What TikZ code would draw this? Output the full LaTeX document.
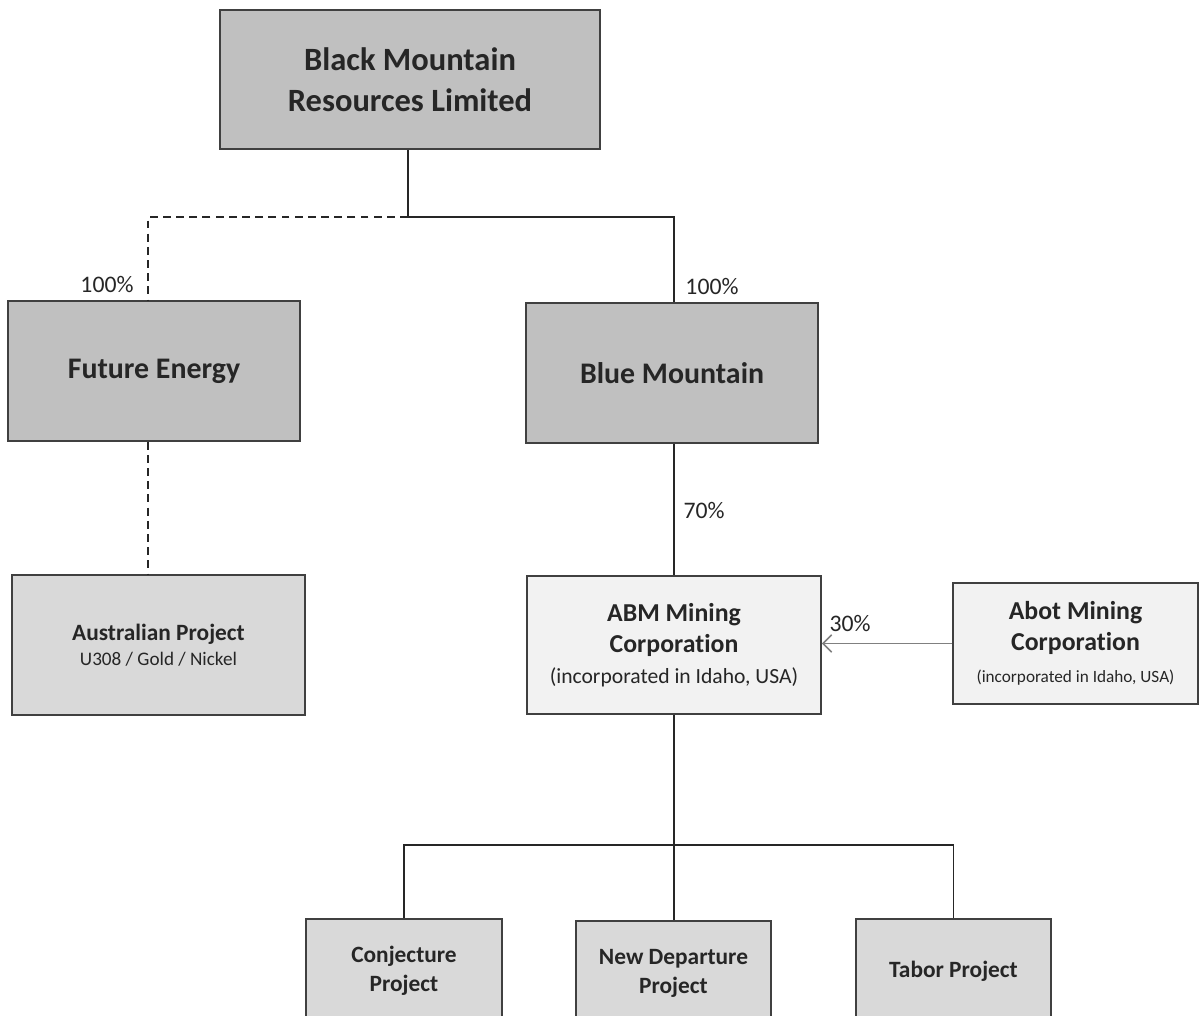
\documentclass[tikz,border=0pt]{standalone}
\usepackage{fontspec}
\setmainfont{Carlito}[Ligatures=NoCommon]
\usetikzlibrary{calc,arrows.meta}
\definecolor{boxdark}{HTML}{C0C0C0}
\definecolor{boxmid}{HTML}{D9D9D9}
\definecolor{boxlight}{HTML}{F2F2F2}
\definecolor{edgegray}{HTML}{404040}
\definecolor{txtgray}{HTML}{262626}
\tikzset{
	box/.style={draw=edgegray, line width=0.9pt, text=txtgray, align=center, inner sep=0pt},
	link/.style={draw=txtgray, line width=0.9pt},
	pct/.style={text=txtgray, font=\fontsize{13.5}{16}\selectfont},
}

\begin{document}
\begin{tikzpicture}[x=0.02cm, y=-0.02cm]
			%%%%% START %%%%%
			\clip (0, 0) rectangle (1204, 1016);
			\useasboundingbox (0, 0) rectangle (1204, 1016);
			
			\node[box, fill=boxdark, minimum width=7.6cm, minimum height=2.78cm, font=\bfseries\fontsize{18.5}{23.5}\selectfont] (bmr) at (410, 79.5) {Black Mountain\\Resources Limited};
			
			\node[box, fill=boxdark, minimum width=5.84cm, minimum height=2.8cm, font=\bfseries\fontsize{17}{20}\selectfont] (fe) at (154, 371) {Future Energy};
			\node[box, fill=boxdark, minimum width=5.84cm, minimum height=2.8cm, font=\bfseries\fontsize{17}{20}\selectfont] (bm) at (672, 373) {Blue Mountain};
			
			\node[box, fill=boxmid, minimum width=5.86cm, minimum height=2.8cm, font=\bfseries\fontsize{13.3}{15}\selectfont] (aus) at (158.5, 645) {Australian Project\\[-1pt]\mdseries\fontsize{10.9}{12}\selectfont U308 / Gold / Nickel};
			
			\node[box, fill=boxlight, minimum width=5.88cm, minimum height=2.76cm, font=\bfseries\fontsize{14.7}{17.6}\selectfont] (abm) at (674, 645) {ABM Mining\\Corporation\\[0pt]\mdseries\fontsize{12.3}{14}\selectfont (incorporated in Idaho, USA)};
			\node[box, fill=boxlight, minimum width=4.9cm, minimum height=2.42cm, font=\bfseries\fontsize{14.7}{17.6}\selectfont] (abot) at (1075.5, 643.5) {Abot Mining\\Corporation\\[1pt]\mdseries\fontsize{9.8}{11.5}\selectfont (incorporated in Idaho, USA)};
			
			\node[box, fill=boxmid, minimum width=3.92cm, minimum height=2.08cm, font=\bfseries\fontsize{13.3}{16.5}\selectfont] (conj) at (404, 971) {Conjecture\\Project};
			\node[box, fill=boxmid, minimum width=3.9cm, minimum height=2.08cm, font=\bfseries\fontsize{13.3}{16.5}\selectfont] (newdep) at (673.5, 973) {New Departure\\Project};
			\node[box, fill=boxmid, minimum width=3.9cm, minimum height=2.08cm, font=\bfseries\fontsize{13.3}{16.5}\selectfont] (tabor) at (953.5, 971) {Tabor Project};
			
			% top split
			\coordinate (split) at (408, 217);
			\draw[link] (bmr.south -| split) -- (split);
			\draw[link, dash pattern=on 4.5pt off 3pt] (split) -| ([xshift=-6*0.02cm]fe.north);
			\draw[link] (split) -| ([xshift=2*0.02cm]bm.north);
			
			\draw[link, dash pattern=on 4.5pt off 3pt] ([xshift=-6*0.02cm]fe.south) -- ([xshift=-6*0.02cm]fe.south |- aus.north);
			\draw[link] (abm.north |- bm.south) -- (abm.north);
			\draw[link, draw=gray, -{Straight Barb[length=5pt, width=10pt]}] (abot.west) -- (abot.west -| abm.east);
			
			% project split
			\coordinate (psplit) at (674, 845);
			\draw[link] (abm.south) -- (psplit);
			\draw[link] (psplit) -| (conj.north);
			\draw[link] (psplit) -- (psplit |- newdep.north);
			\draw[link] (psplit) -| (tabor.north);
			
			\node[pct] (l1) at (107, 285) {100\%};
			\node[pct] (l2) at (712, 287) {100\%};
			\node[pct] (l3) at (704, 511) {70\%};
			\node[pct] (l4) at (850, 624) {30\%};
			%%%%% END %%%%%
\end{tikzpicture}
\end{document}
